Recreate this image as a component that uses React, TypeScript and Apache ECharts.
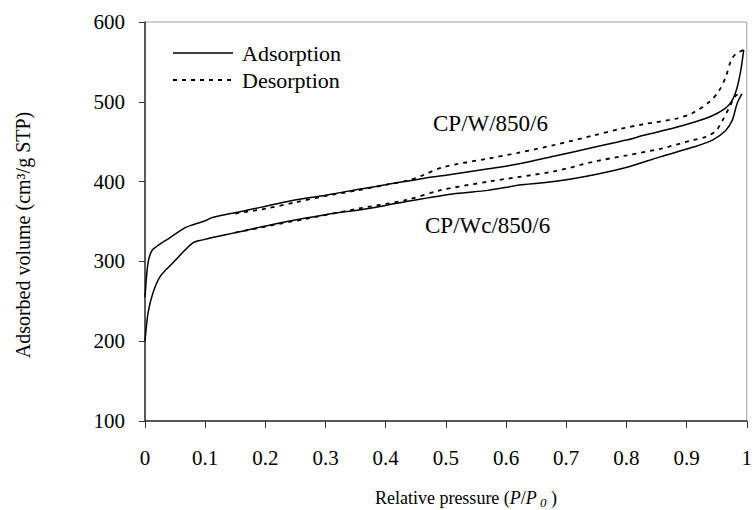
import React, { useEffect, useRef } from "react";
import * as echarts from "echarts";

const FONT = "'Liberation Serif', 'Times New Roman', serif";

// [P/P0, volume]
const wAdsorption: [number, number][] = [
  [0, 255], [0.003, 285], [0.006, 302], [0.012, 314], [0.02, 319], [0.04, 329],
  [0.066, 342], [0.08, 346], [0.1, 351], [0.112, 355], [0.156, 362], [0.194, 368],
  [0.243, 376], [0.3, 383], [0.353, 390], [0.4, 396], [0.462, 404], [0.5, 408],
  [0.571, 416], [0.62, 422], [0.681, 432], [0.746, 443], [0.8, 452], [0.829, 458],
  [0.883, 468], [0.938, 481], [0.965, 492], [0.976, 502], [0.984, 518], [0.99, 539],
  [0.995, 565],
];
const wDesorption: [number, number][] = [
  [0.15, 360], [0.2, 366], [0.25, 374], [0.3, 382], [0.353, 389], [0.4, 396],
  [0.44, 402], [0.462, 408], [0.495, 418], [0.571, 429], [0.62, 436], [0.681, 446],
  [0.746, 458], [0.79, 466], [0.829, 472], [0.883, 479], [0.91, 486], [0.938, 500],
  [0.954, 514], [0.965, 531], [0.974, 552], [0.982, 560], [0.995, 565],
];
const wcAdsorption: [number, number][] = [
  [0, 200], [0.005, 235], [0.013, 260], [0.025, 281], [0.046, 298], [0.079, 323],
  [0.096, 327], [0.112, 330], [0.156, 337], [0.21, 346], [0.265, 354], [0.32, 361],
  [0.353, 364], [0.435, 375], [0.517, 385], [0.57, 389], [0.626, 396], [0.68, 400],
  [0.736, 407], [0.801, 418], [0.856, 431], [0.91, 443], [0.943, 452], [0.965, 464],
  [0.976, 477], [0.984, 498], [0.992, 510],
];
const wcDesorption: [number, number][] = [
  [0.15, 336], [0.21, 345], [0.265, 353], [0.32, 361], [0.353, 366], [0.435, 377],
  [0.49, 389], [0.571, 400], [0.681, 413], [0.746, 425], [0.801, 433], [0.856, 441],
  [0.91, 452], [0.932, 456], [0.949, 464], [0.96, 477], [0.971, 493], [0.982, 508],
  [0.992, 510],
];

const legendNames = ["Adsorption", "Desorption"];
const sampleLabels = ["CP/W/850/6", "CP/Wc/850/6"];

export default function App() {
  const ref = useRef<HTMLDivElement>(null);
  useEffect(() => {
    document.body.style.margin = "0";
    const chart = echarts.init(ref.current!, null, { renderer: "svg" });
    const solid = { color: "#000", width: 1.5, type: "solid" as const };
    const dashed = { color: "#000", width: 1.8, type: [4, 5] as any };
    const mk = (name: string, data: [number, number][], ls: any) => ({
      type: "line",
      name,
      data,
      showSymbol: false,
      symbol: "none",
      smooth: 0.3,
      lineStyle: ls,
      silent: true,
    });
    chart.setOption({
      animation: false,
      backgroundColor: "#fff",
      grid: {
        left: 145, right: 1, top: 22, bottom: 89,
        show: true, borderColor: "#a0a0a0", borderWidth: 1, backgroundColor: "transparent",
      },
      xAxis: {
        type: "value", min: 0, max: 1, interval: 0.1,
        axisLine: { show: true, lineStyle: { color: "#333", width: 1.5 } },
        axisTick: { show: true, inside: false, length: 7, lineStyle: { color: "#333" } },
        axisLabel: { color: "#000", fontFamily: FONT, fontSize: 21, margin: 26 },
        splitLine: { show: false },
      },
      yAxis: {
        type: "value", min: 100, max: 600, interval: 100,
        axisLine: { show: true, lineStyle: { color: "#333", width: 1.5 } },
        axisTick: { show: true, inside: false, length: 6, lineStyle: { color: "#333" } },
        axisLabel: { color: "#000", fontFamily: FONT, fontSize: 21, margin: 20 },
        splitLine: { show: false },
      },
      series: [
        mk("CP/W adsorption", wAdsorption, solid),
        mk("CP/W desorption", wDesorption, dashed),
        mk("CP/Wc adsorption", wcAdsorption, solid),
        mk("CP/Wc desorption", wcDesorption, dashed),
      ],
      graphic: [
        { type: "line", shape: { x1: 173, y1: 53, x2: 233, y2: 53 }, style: { stroke: "#000", lineWidth: 1.5 } },
        { type: "line", shape: { x1: 173, y1: 80, x2: 233, y2: 80 }, style: { stroke: "#000", lineWidth: 1.8, lineDash: [4, 5] } },
        { type: "text", x: 242, y: 53, style: { text: legendNames[0], fontFamily: FONT, fontSize: 22, fill: "#000", textVerticalAlign: "middle" } },
        { type: "text", x: 242, y: 80, style: { text: legendNames[1], fontFamily: FONT, fontSize: 22, fill: "#000", textVerticalAlign: "middle" } },
        { type: "text", x: 433, y: 123, style: { text: sampleLabels[0], fontFamily: FONT, fontSize: 23, fill: "#000", textVerticalAlign: "middle" } },
        { type: "text", x: 425, y: 225, style: { text: sampleLabels[1], fontFamily: FONT, fontSize: 23, fill: "#000", textVerticalAlign: "middle" } },
        {
          type: "text", x: 23, y: 235, rotation: Math.PI / 2,
          style: { text: "Adsorbed volume (cm³/g STP)", fontFamily: FONT, fontSize: 20, fill: "#000", textAlign: "center", textVerticalAlign: "middle" },
        },
        {
          type: "text", x: 466, y: 498,
          style: {
            text: "{a|Relative pressure (}{i|P}{a|/}{i|P}{s| 0}{a| )}",
            fontFamily: FONT, fontSize: 18, fill: "#000", textAlign: "center", textVerticalAlign: "middle",
            rich: {
              a: { fontFamily: FONT, fontSize: 18, fill: "#000" },
              i: { fontFamily: FONT, fontSize: 18, fontStyle: "italic", fill: "#000" },
              s: { fontFamily: FONT, fontSize: 13, fontStyle: "italic", fill: "#000", padding: [8, 0, 0, 0] },
            },
          },
        },
      ],
    });
    return () => chart.dispose();
  }, []);
  return <div ref={ref} style={{ width: 755, height: 510 }} />;
}
